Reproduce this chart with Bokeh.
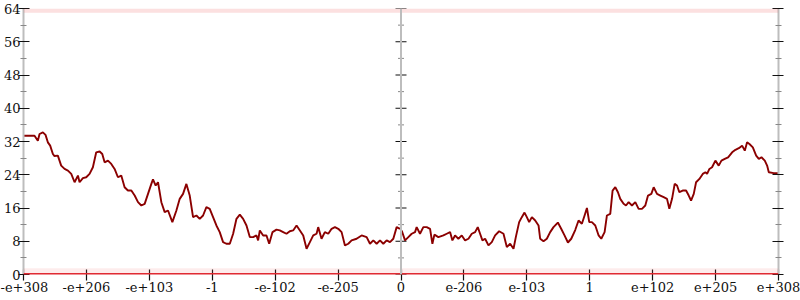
from bokeh.plotting import figure
from bokeh.models import Range1d, FixedTicker, LinearAxis, Span, BoxAnnotation, Grid
from bokeh.embed import file_html
from bokeh.resources import INLINE

# x positions are in "tick units" of the bit-pattern axis (-6 .. 6)
tick_pos = [-6, -5, -4, -3, -2, -1, 0, 1, 2, 3, 4, 5, 6]
tick_labels = ["-e+308", "-e+206", "-e+103", "-1", "-e-102", "-e-205", "0",
               "e-206", "e-103", "1", "e+102", "e+205", "e+308"]
y_major = [0, 8, 16, 24, 32, 40, 48, 56, 64]
y_minor = [4, 12, 20, 28, 36, 44, 52, 60]
edge_levels = [0, 64]

neg_x = [-6.00, -5.825, -5.772, -5.745, -5.692, -5.650, -5.613, -5.576, -5.533, -5.507,
         -5.454, -5.401, -5.347, -5.294, -5.241, -5.188, -5.135, -5.109, -5.056, -5.003,
         -4.950, -4.897, -4.844, -4.790, -4.748, -4.711, -4.658, -4.605, -4.552, -4.499,
         -4.446, -4.393, -4.340, -4.286, -4.233, -4.180, -4.127, -4.074, -4.021, -3.968,
         -3.942, -3.899, -3.862, -3.809, -3.756, -3.703, -3.634, -3.570, -3.517, -3.464,
         -3.411, -3.358, -3.305, -3.252, -3.199, -3.146, -3.093, -3.040, -2.987, -2.934,
         -2.881, -2.828, -2.775, -2.721, -2.668, -2.615, -2.562, -2.509, -2.456, -2.403,
         -2.350, -2.297, -2.271, -2.244, -2.191, -2.138, -2.095, -2.042, -1.979, -1.926,
         -1.873, -1.820, -1.767, -1.714, -1.660, -1.607, -1.554, -1.501, -1.448, -1.395,
         -1.342, -1.316, -1.263, -1.210, -1.156, -1.103, -1.050, -0.997, -0.944, -0.891,
         -0.838, -0.785, -0.706, -0.626, -0.546, -0.493, -0.440, -0.387, -0.334, -0.281,
         -0.228, -0.175, -0.122, -0.069, -0.016]
neg_y = [33.4, 33.4, 32.2, 33.8, 34.2, 33.6, 31.8, 31.0, 29.0, 28.5,
         28.6, 26.2, 25.4, 25.0, 24.2, 22.2, 23.8, 22.2, 23.2, 23.4,
         24.2, 25.8, 29.4, 29.6, 29.0, 27.0, 27.4, 26.6, 25.4, 23.4,
         23.8, 21.0, 20.2, 20.2, 19.0, 17.4, 16.6, 17.0, 19.4, 21.8,
         22.9, 21.4, 22.2, 17.4, 15.0, 15.4, 12.6, 15.4, 18.2, 19.4,
         21.8, 19.0, 13.8, 14.2, 13.4, 14.2, 16.2, 15.8, 13.8, 11.8,
         10.2, 7.8, 7.4, 7.4, 9.8, 13.4, 14.4, 13.4, 11.8, 9.0,
         9.0, 9.4, 8.2, 10.6, 9.4, 9.4, 7.4, 10.2, 10.8, 10.6,
         10.2, 9.8, 10.4, 10.6, 11.8, 10.6, 9.4, 6.2, 7.8, 9.4,
         9.8, 11.4, 8.6, 10.2, 9.8, 11.0, 11.4, 11.0, 10.2, 7.0,
         7.4, 8.2, 8.6, 9.4, 9.0, 7.4, 8.2, 7.4, 8.2, 7.4,
         8.2, 7.8, 8.6, 11.4, 11.0]

pos_x = [0.011, 0.064, 0.117, 0.170, 0.223, 0.249, 0.302, 0.355, 0.408, 0.462,
         0.499, 0.531, 0.594, 0.674, 0.727, 0.780, 0.817, 0.859, 0.912, 0.966,
         1.019, 1.072, 1.125, 1.178, 1.220, 1.257, 1.294, 1.337, 1.390, 1.443,
         1.496, 1.560, 1.629, 1.682, 1.735, 1.788, 1.825, 1.878, 1.920, 1.963,
         2.000, 2.037, 2.080, 2.133, 2.186, 2.212, 2.265, 2.318, 2.371, 2.424,
         2.493, 2.546, 2.599, 2.653, 2.706, 2.769, 2.822, 2.875, 2.918, 2.955,
         2.992, 3.034, 3.088, 3.141, 3.183, 3.236, 3.273, 3.326, 3.363, 3.406,
         3.448, 3.485, 3.538, 3.576, 3.618, 3.671, 3.724, 3.777, 3.830, 3.883,
         3.926, 3.979, 4.016, 4.069, 4.122, 4.175, 4.228, 4.265, 4.308, 4.350,
         4.387, 4.424, 4.477, 4.531, 4.573, 4.610, 4.653, 4.690, 4.743, 4.796,
         4.838, 4.865, 4.902, 4.944, 4.997, 5.050, 5.093, 5.146, 5.199, 5.263,
         5.316, 5.369, 5.422, 5.464, 5.501, 5.538, 5.592, 5.645, 5.687, 5.729,
         5.782, 5.819, 5.846, 5.926, 6.000]
pos_y = [10.6, 8.2, 9.0, 9.8, 10.2, 11.4, 9.8, 11.4, 11.4, 11.0,
         7.4, 9.6, 9.0, 9.4, 9.8, 10.2, 8.2, 9.4, 8.6, 9.4,
         8.2, 8.6, 9.8, 10.2, 11.4, 9.8, 8.2, 8.6, 7.0, 7.8,
         9.4, 10.4, 9.8, 6.6, 7.4, 6.2, 9.0, 12.6, 13.8, 14.9,
         13.8, 12.6, 13.8, 13.0, 11.8, 8.6, 8.0, 8.6, 10.2, 11.4,
         12.5, 11.0, 9.4, 7.7, 8.6, 10.7, 13.0, 12.2, 14.2, 16.0,
         12.6, 12.6, 11.8, 9.4, 8.6, 10.2, 14.2, 14.6, 20.2, 21.0,
         19.8, 18.2, 17.0, 16.6, 17.4, 16.6, 17.4, 15.8, 15.8, 16.6,
         19.0, 19.4, 21.0, 19.4, 19.0, 18.6, 18.2, 15.8, 18.2, 21.8,
         21.4, 19.8, 20.2, 20.2, 19.0, 17.8, 19.4, 22.2, 23.0, 24.2,
         24.6, 24.2, 25.4, 25.8, 27.4, 26.2, 27.4, 27.8, 28.2, 29.4,
         30.0, 30.4, 31.0, 29.8, 31.8, 31.4, 30.6, 28.6, 27.8, 28.2,
         27.4, 26.2, 24.6, 24.4, 24.4]

FONT = "DejaVu Serif"

p = figure(width=800, height=300, output_backend="svg", toolbar_location=None,
           x_range=Range1d(tick_pos[0], tick_pos[-1]),
           y_range=Range1d(y_major[0], y_major[-1]),
           x_axis_location=None, y_axis_location=None,
           min_border_left=0, min_border_right=22, min_border_top=8, min_border_bottom=26)
p.outline_line_color = None
p.background_fill_color = "white"
for r in list(p.center):
    if isinstance(r, Grid):
        r.visible = False

# faint edge bands of points at 0 and 64
p.add_layout(BoxAnnotation(bottom=edge_levels[0], top=edge_levels[0] + 1.5,
                           fill_color="#f07070", fill_alpha=0.13, line_color=None))
p.add_layout(BoxAnnotation(bottom=edge_levels[1] - 1.0, top=edge_levels[1],
                           fill_color="#f07070", fill_alpha=0.22, line_color=None))
p.add_layout(Span(location=edge_levels[0], dimension="width",
                  line_color="#e02a32", line_width=3))

# center axis line
p.add_layout(Span(location=tick_pos[6], dimension="height",
                  line_color="#bdbdbd", line_width=2))
p.scatter(x=[tick_pos[6]] * len(y_major), y=y_major, marker="dash", size=11,
          line_color="#111111", line_width=1.2)
p.scatter(x=[tick_pos[6]] * len(y_minor), y=y_minor, marker="dash", size=6,
          line_color="#888888", line_width=1)

p.line(neg_x, neg_y, line_color="#8b0000", line_width=1.9)
p.line(pos_x, pos_y, line_color="#8b0000", line_width=1.9)


def style_y(ax, standoff):
    ax.axis_line_color = "#bdbdbd"
    ax.axis_line_width = 2
    ax.major_tick_in = 6
    ax.major_tick_out = 5
    ax.minor_tick_in = 3
    ax.minor_tick_out = 3
    ax.major_tick_line_color = "#111111"
    ax.major_tick_line_width = 1.2
    ax.minor_tick_line_color = "#888888"
    ax.major_label_standoff = standoff
    ax.axis_label_standoff = 0
    ax.major_label_text_font = FONT
    ax.major_label_text_color = "#111111"
    ax.major_label_text_font_size = "13px"


yl = LinearAxis(ticker=FixedTicker(ticks=y_major, minor_ticks=y_minor))
style_y(yl, -2)
p.add_layout(yl, "left")
yr = LinearAxis(ticker=FixedTicker(ticks=y_major, minor_ticks=y_minor),
                major_label_overrides={t: "" for t in y_major})
style_y(yr, 1)
p.add_layout(yr, "right")

xb = LinearAxis(ticker=FixedTicker(ticks=tick_pos, minor_ticks=[]),
                major_label_overrides={t: l for t, l in zip(tick_pos, tick_labels)})
xb.axis_line_color = None
xb.major_tick_in = 5
xb.major_tick_out = 6
xb.major_tick_line_color = "#111111"
xb.major_tick_line_width = 1.2
xb.major_label_standoff = 1
xb.axis_label_standoff = 0
xb.major_label_text_font = FONT
xb.major_label_text_font_size = "13px"
xb.major_label_text_color = "#111111"
p.add_layout(xb, "below")

open("out.html", "w").write(file_html(p, INLINE))
